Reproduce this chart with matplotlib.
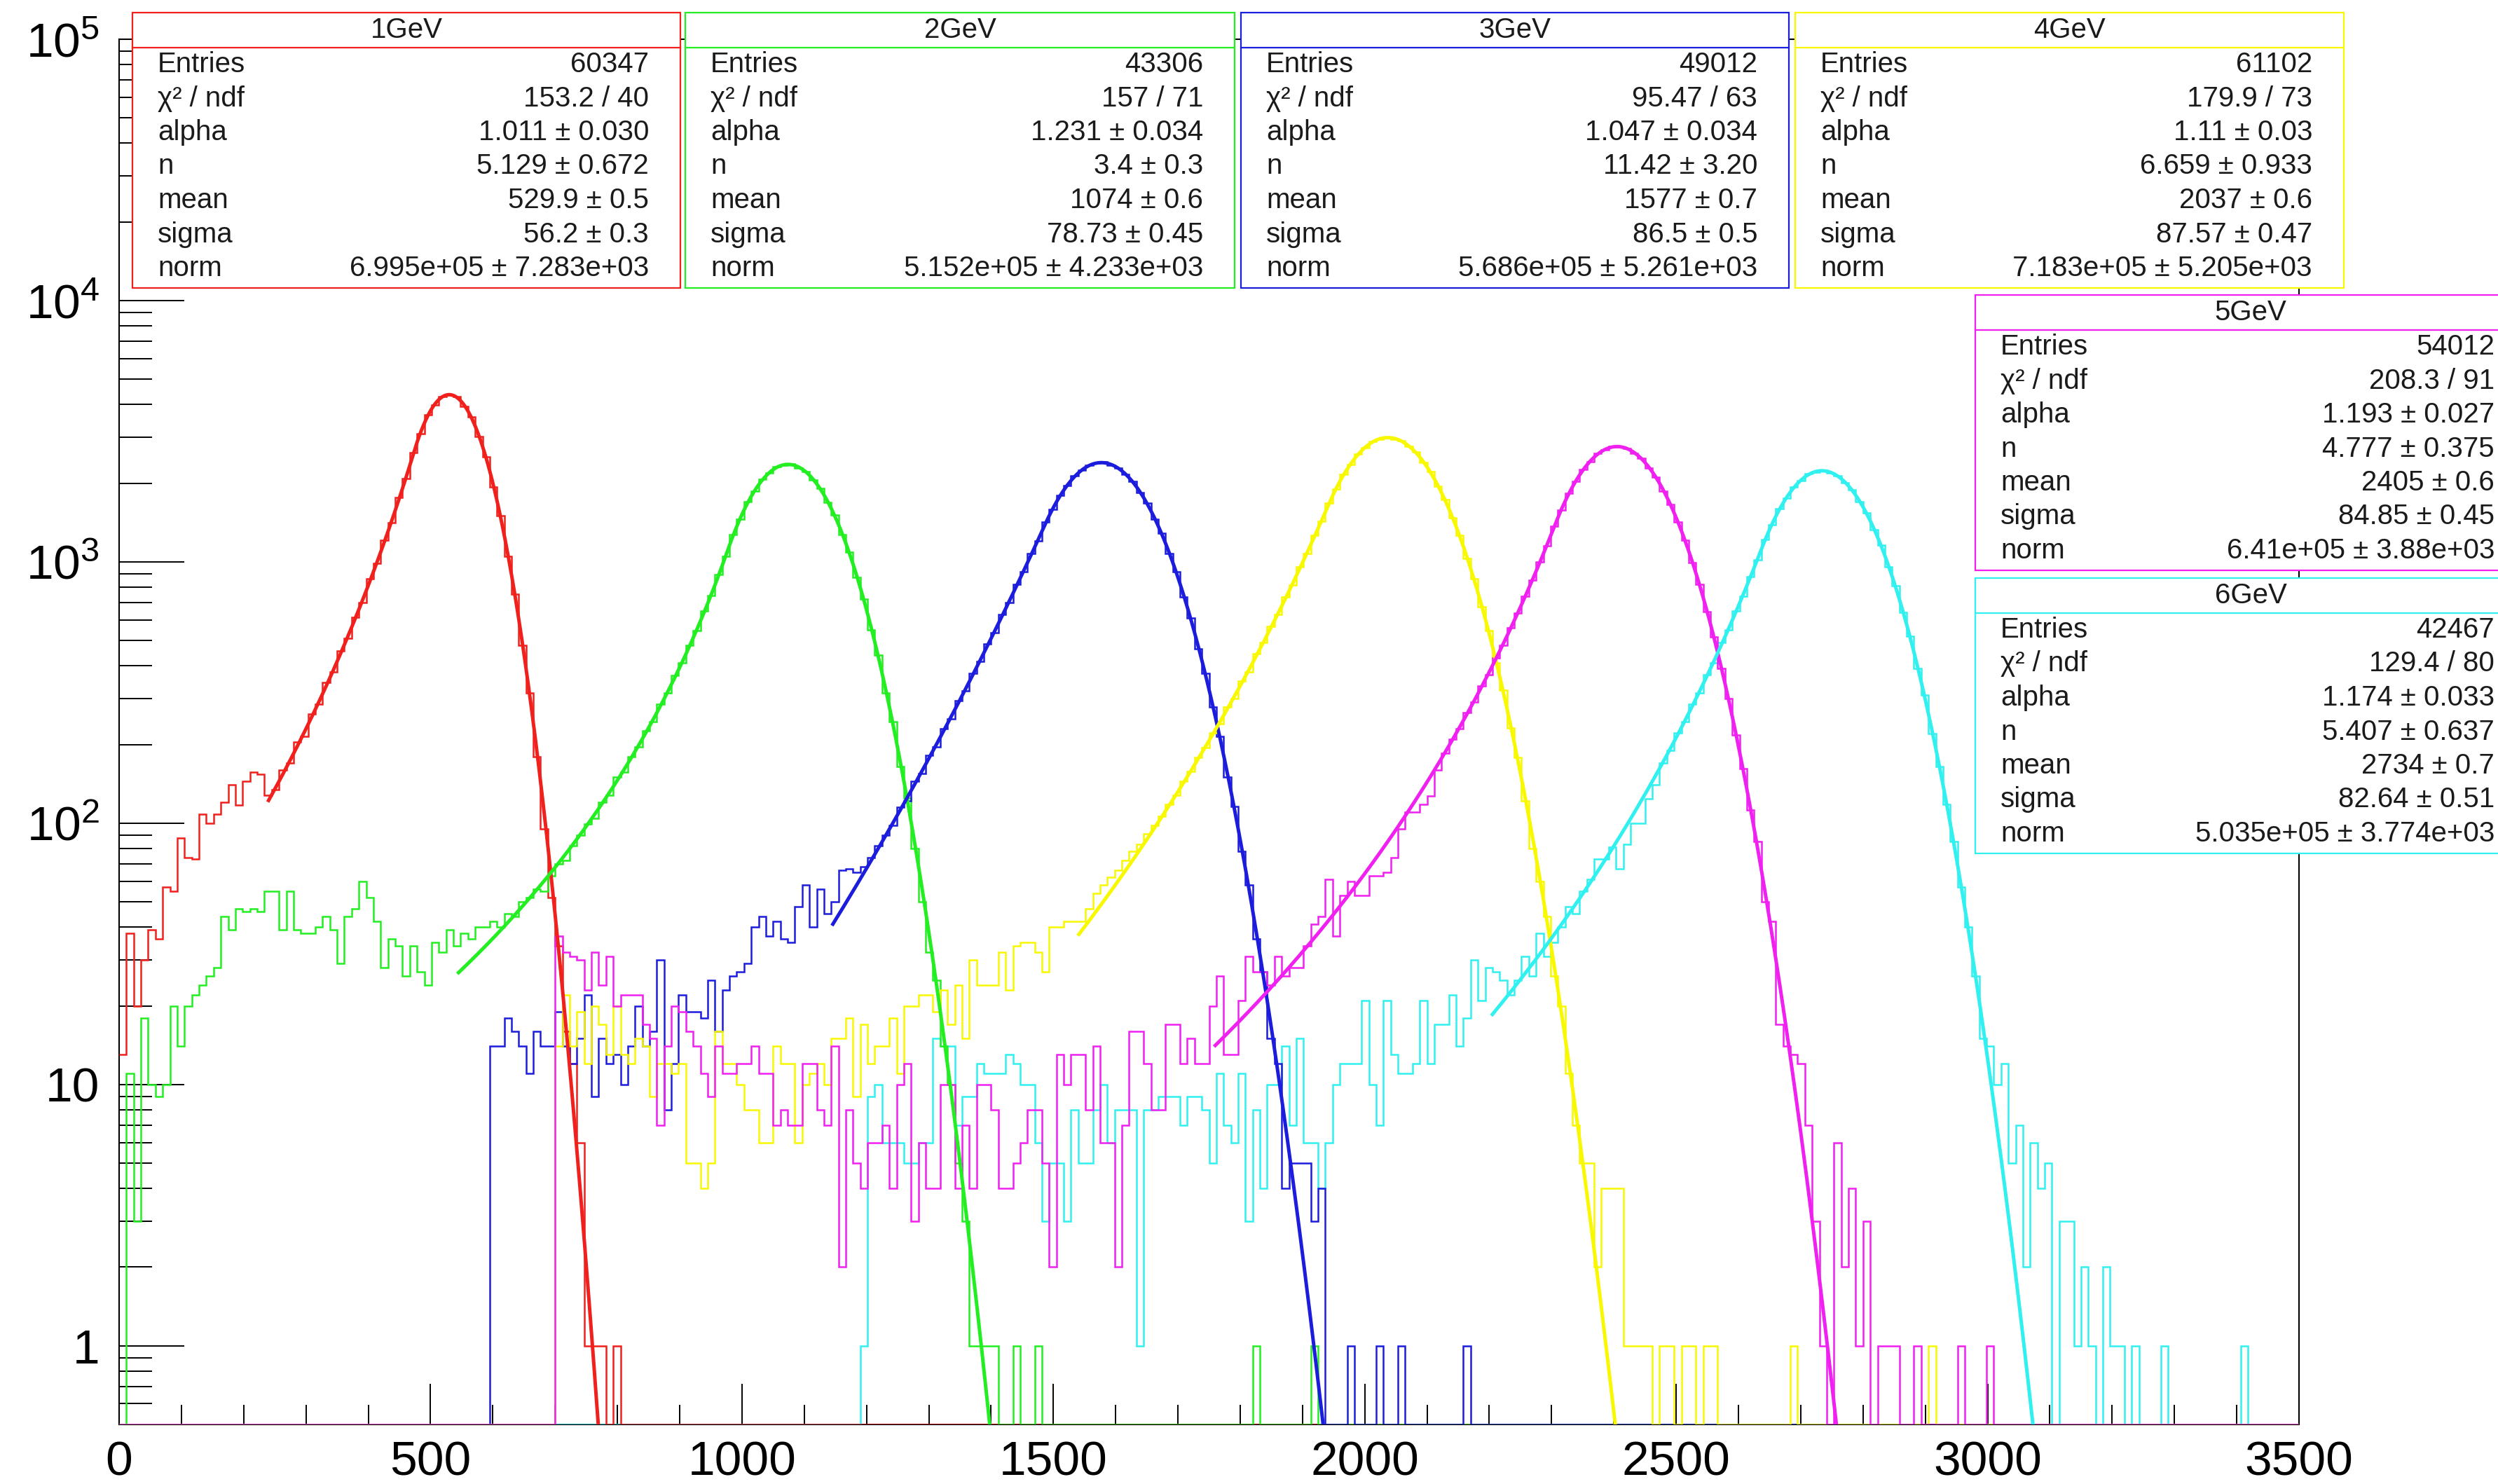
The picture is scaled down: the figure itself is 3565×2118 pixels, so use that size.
import numpy as np
import matplotlib
matplotlib.use("Agg")
import matplotlib.pyplot as plt
from matplotlib.patches import Rectangle
from matplotlib.lines import Line2D
from matplotlib.ticker import FixedLocator, NullFormatter
from math import erf, sqrt, pi, exp

plt.rcParams['font.family'] = ['Liberation Sans', 'DejaVu Sans']
plt.rcParams['mathtext.fontset'] = 'custom'
plt.rcParams['mathtext.rm'] = 'Liberation Sans'
plt.rcParams['mathtext.it'] = 'Liberation Sans:italic'

N_BINS = 300
X_MAX = 3500.0
Y_MIN = 0.5
Y_MAX = 1e5

names = ["1GeV", "2GeV", "3GeV", "4GeV", "5GeV", "6GeV"]
colors = ["#f0201c", "#22ee22", "#1c1cdc", "#f8f800", "#f020f0", "#30f0f0"]

# bin contents (bin width 3500/300), each list starts at first_bin
first_1gev = 0
counts_1gev = [13, 38, 20, 30, 39, 36, 57, 55, 88, 74,
               73, 108, 100, 108, 120, 140, 117, 145, 157, 154,
               128, 134, 160, 170, 205, 215, 262, 285, 345, 380,
               455, 510, 615, 700, 860, 985, 1210, 1410, 1760, 2080,
               2620, 3100, 3660, 3990, 4300, 4340, 4280, 3940, 3580, 3020,
               2530, 1940, 1500, 1050, 750, 480, 315, 180, 95, 52,
               34, 16, 12, 6, 1, 1, 1, 0, 1]

first_2gev = 0
counts_2gev = [0, 11, 3, 18, 10, 9, 10, 20, 14, 20,
               22, 24, 26, 28, 44, 39, 47, 46, 47, 46,
               55, 55, 39, 55, 39, 38, 38, 40, 44, 39,
               29, 44, 47, 60, 52, 42, 28, 36, 34, 26,
               34, 27, 24, 35, 32, 39, 34, 38, 36, 40,
               40, 42, 40, 45, 44, 50, 52, 56, 55, 63,
               70, 72, 82, 90, 99, 104, 120, 128, 150, 157,
               180, 196, 225, 245, 285, 315, 368, 410, 480, 545,
               650, 745, 895, 1050, 1270, 1460, 1695, 1870, 2070, 2190,
               2310, 2340, 2370, 2290, 2220, 2060, 1910, 1690, 1510, 1270,
               1090, 870, 720, 550, 440, 315, 245, 165, 125, 80,
               50, 32, 25, 14, 10, 5, 3, 1, 1, 1,
               1, 0, 0, 1, 0, 0, 1, 0, 0, 0,
               0, 0, 0, 0, 0, 0, 0, 0, 0, 0,
               0, 0, 0, 0, 0, 0, 0, 0, 0, 0,
               0, 0, 0, 0, 0, 0, 1, 0, 0, 0,
               0, 0, 0, 0, 1]

first_3gev = 51
counts_3gev = [14, 14, 18, 16, 14, 11, 16, 14, 14, 19,
               14, 12, 15, 22, 9, 15, 12, 13, 10, 14,
               20, 14, 16, 30, 8, 12, 22, 19, 19, 18,
               25, 16, 23, 26, 27, 29, 40, 44, 37, 42,
               36, 35, 48, 58, 40, 56, 45, 50, 66, 67,
               65, 68, 74, 82, 90, 98, 115, 122, 145, 155,
               182, 196, 230, 250, 295, 320, 375, 415, 485, 535,
               630, 700, 820, 915, 1075, 1205, 1420, 1590, 1800, 1955,
               2135, 2240, 2350, 2380, 2410, 2350, 2290, 2160, 2030, 1840,
               1675, 1460, 1285, 1075, 915, 735, 610, 465, 375, 278,
               215, 150, 116, 78, 58, 36, 27, 15, 12, 4,
               5, 5, 5, 3, 4, 0, 0, 0, 1, 0,
               0, 0, 1, 0, 0, 1, 0, 0, 0, 0,
               0, 0, 0, 0, 1]

first_4gev = 60
counts_4gev = [14, 22, 14, 19, 12, 20, 17, 13, 20, 13,
               12, 15, 14, 9, 12, 12, 11, 12, 5, 5,
               4, 5, 16, 12, 12, 10, 8, 8, 6, 6,
               14, 12, 12, 6, 10, 11, 12, 10, 15, 15,
               18, 9, 17, 12, 14, 14, 18, 11, 20, 20,
               22, 22, 19, 23, 17, 24, 15, 30, 24, 24,
               24, 32, 23, 34, 35, 35, 32, 27, 40, 40,
               42, 42, 42, 47, 54, 58, 62, 66, 72, 78,
               83, 91, 98, 106, 118, 128, 145, 158, 178, 195,
               222, 240, 278, 300, 350, 380, 445, 490, 565, 630,
               735, 815, 955, 1075, 1265, 1430, 1680, 1895, 2160, 2360,
               2590, 2730, 2890, 2940, 3000, 2950, 2910, 2760, 2630, 2400,
               2210, 1950, 1730, 1470, 1265, 1030, 860, 675, 545, 410,
               322, 232, 178, 122, 80, 60, 44, 26, 20, 11,
               7, 5, 5, 2, 4, 4, 4, 1, 1, 1,
               1, 0, 1, 1, 0, 1, 1, 0, 1, 1,
               0, 0, 0, 0, 0, 0, 0, 0, 0, 0,
               1, 0, 0, 0, 0, 0, 0, 0, 0, 0,
               0, 0, 0, 0, 0, 0, 0, 0, 0, 1]

first_5gev = 60
counts_5gev = [37, 32, 31, 30, 23, 32, 24, 31, 20, 22,
               22, 22, 17, 15, 7, 14, 20, 19, 16, 14,
               11, 9, 14, 11, 11, 12, 12, 14, 11, 11,
               7, 8, 7, 7, 12, 12, 8, 7, 14, 2,
               8, 5, 4, 6, 6, 7, 4, 10, 12, 3,
               6, 4, 4, 10, 10, 4, 7, 4, 10, 10,
               8, 4, 4, 5, 6, 8, 8, 5, 2, 13,
               10, 13, 13, 8, 14, 6, 6, 2, 7, 16,
               16, 12, 8, 8, 17, 17, 12, 15, 12, 12,
               20, 26, 13, 13, 21, 31, 27, 27, 24, 31,
               26, 28, 28, 34, 41, 44, 61, 37, 53, 60,
               53, 53, 63, 63, 65, 74, 95, 110, 110, 118,
               127, 160, 185, 210, 230, 265, 290, 335, 370, 430,
               480, 560, 635, 740, 850, 1000, 1150, 1370, 1580, 1830,
               2030, 2260, 2420, 2600, 2680, 2760, 2750, 2720, 2600, 2490,
               2290, 2110, 1870, 1660, 1420, 1210, 995, 820, 645, 515,
               390, 300, 218, 162, 112, 85, 50, 42, 17, 14,
               13, 12, 7, 3, 1, 0, 6, 2, 4, 1,
               3, 0, 1, 1, 1, 0, 0, 1, 0, 0,
               0, 0, 0, 1, 0, 0, 0, 1]

first_6gev = 102
counts_6gev = [1, 9, 10, 6, 6, 6, 5, 5, 6, 6,
               15, 14, 14, 7, 9, 9, 12, 11, 11, 11,
               13, 12, 10, 10, 6, 3, 5, 5, 3, 8,
               5, 5, 8, 10, 6, 8, 8, 8, 1, 8,
               8, 9, 9, 9, 7, 9, 9, 8, 5, 11,
               7, 6, 11, 3, 8, 4, 10, 10, 14, 7,
               15, 6, 6, 4, 6, 10, 12, 12, 12, 21,
               10, 7, 21, 13, 11, 11, 12, 21, 12, 17,
               17, 22, 14, 18, 30, 21, 28, 27, 25, 22,
               25, 31, 26, 38, 31, 35, 40, 48, 45, 55,
               61, 73, 73, 81, 67, 83, 100, 100, 124, 140,
               170, 190, 222, 245, 285, 315, 370, 410, 490, 550,
               650, 740, 880, 1020, 1215, 1390, 1600, 1755, 1940, 2050,
               2170, 2200, 2240, 2190, 2140, 2010, 1890, 1700, 1540, 1330,
               1160, 955, 810, 640, 520, 390, 310, 220, 165, 118,
               85, 57, 40, 26, 15, 14, 10, 12, 5, 7,
               2, 6, 4, 5, 0, 3, 3, 1, 2, 1,
               0, 2, 1, 1, 0, 1, 0, 0, 0, 1,
               0, 0, 0, 0, 0, 0, 0, 0, 0, 0,
               1]

first_bins = [first_1gev, first_2gev, first_3gev, first_4gev, first_5gev, first_6gev]
counts = [counts_1gev, counts_2gev, counts_3gev, counts_4gev, counts_5gev, counts_6gev]

# crystal ball fit results
fit_alpha = [1.011, 1.231, 1.047, 1.11, 1.193, 1.174]
fit_n = [5.129, 3.4, 11.42, 6.659, 4.777, 5.407]
fit_mean = [529.9, 1074, 1577, 2037, 2405, 2734]
fit_sigma = [56.2, 78.73, 86.5, 87.57, 84.85, 82.64]
fit_norm = [6.995e5, 5.152e5, 5.686e5, 7.183e5, 6.41e5, 5.035e5]
fit_lo = [240, 545, 1146, 1541, 1760, 2205]
fit_hi = [790, 1400, 1960, 2420, 2780, 3090]

# stat box texts
entries = ["60347", "43306", "49012", "61102", "54012", "42467"]
chi2_ndf = ["153.2 / 40", "157 / 71", "95.47 / 63", "179.9 / 73", "208.3 / 91", "129.4 / 80"]
alpha_txt = ["1.011 ± 0.030", "1.231 ± 0.034", "1.047 ± 0.034", "1.11 ± 0.03", "1.193 ± 0.027", "1.174 ± 0.033"]
n_txt = ["5.129 ± 0.672", "3.4 ± 0.3", "11.42 ± 3.20", "6.659 ± 0.933", "4.777 ± 0.375", "5.407 ± 0.637"]
mean_txt = ["529.9 ± 0.5", "1074 ± 0.6", "1577 ± 0.7", "2037 ± 0.6", "2405 ± 0.6", "2734 ± 0.7"]
sigma_txt = ["56.2 ± 0.3", "78.73 ± 0.45", "86.5 ± 0.5", "87.57 ± 0.47", "84.85 ± 0.45", "82.64 ± 0.51"]
norm_txt = ["6.995e+05 ± 7.283e+03", "5.152e+05 ± 4.233e+03", "5.686e+05 ± 5.261e+03",
            "7.183e+05 ± 5.205e+03", "6.41e+05 ± 3.88e+03", "5.035e+05 ± 3.774e+03"]
row_labels = ["Entries", "χ² / ndf", "alpha", "n", "mean", "sigma", "norm"]


def crystal_ball(x, alpha, n, mean, sigma, norm):
    a = abs(alpha)
    c = n / a / (n - 1) * exp(-a * a / 2)
    d = sqrt(pi / 2) * (1 + erf(a / sqrt(2)))
    peak = norm / (sigma * (c + d))
    t = (x - mean) / sigma
    aa = (n / a) ** n * exp(-a * a / 2)
    bb = n / a - a
    return peak * np.where(t > -a, np.exp(-t * t / 2), aa * np.abs(bb - t) ** (-n))


W, H = 3565, 2118
fig = plt.figure(figsize=(W / 100, H / 100), dpi=100)
ax = fig.add_axes([170 / W, 1 - 2033 / H, (3281 - 170) / W, (2033 - 56) / H])

edges = np.linspace(0, X_MAX, N_BINS + 1)

# drawing order as in the original canvas
for i in [5, 0, 1, 2, 3, 4]:
    full = np.zeros(N_BINS)
    full[first_bins[i]:first_bins[i] + len(counts[i])] = counts[i]
    vals = np.where(full > 0, full, Y_MIN)
    ax.stairs(vals, edges, baseline=None, color=colors[i], lw=1.8, zorder=3)

for i in range(6):
    xs = np.linspace(fit_lo[i], fit_hi[i], 800)
    ys = crystal_ball(xs, fit_alpha[i], fit_n[i], fit_mean[i], fit_sigma[i], fit_norm[i])
    ax.plot(xs, ys, color=colors[i], lw=3.6, zorder=4)

ax.set_yscale('log')
ax.set_xlim(0, X_MAX)
ax.set_ylim(Y_MIN, Y_MAX)

ax.set_xticks(np.arange(0, 3501, 500))
ax.set_xticks(np.arange(0, 3501, 100), minor=True)
ax.set_yticks([1, 10, 100, 1e3, 1e4, 1e5],
              ['1', '10', '$10^{2}$', '$10^{3}$', '$10^{4}$', '$10^{5}$'])
minor_y = [k * 10.0 ** d for d in range(-1, 5) for k in range(2, 10)]
minor_y = [v for v in minor_y if Y_MIN <= v <= Y_MAX]
ax.yaxis.set_minor_locator(FixedLocator(minor_y))
ax.yaxis.set_minor_formatter(NullFormatter())

ax.tick_params(axis='x', which='major', direction='in', length=42, width=1.4,
               pad=16, labelsize=50, top=False)
ax.tick_params(axis='x', which='minor', direction='in', length=20, width=1.4, top=False)
ax.tick_params(axis='y', which='major', direction='in', length=67, width=1.4,
               pad=20, labelsize=50, right=False)
ax.tick_params(axis='y', which='minor', direction='in', length=34, width=1.4, right=False)
for sp in ax.spines.values():
    sp.set_linewidth(1.5)
    sp.set_color('black')

# stat boxes (figure pixel coordinates)
box_left = [189, 978, 1771, 2562, 2819, 2819]
box_right = [971, 1762, 2553, 3345, 3605, 3605]
box_top = [18, 18, 18, 18, 421, 825]
box_h = 393
title_h = 50
row_pitch = 48.5


def fx(px):
    return px / W


def fy(py):
    return 1 - py / H


for i in range(6):
    l, r, t = box_left[i], box_right[i], box_top[i]
    fig.add_artist(Rectangle((fx(l), fy(t + box_h)), fx(r) - fx(l), fy(t) - fy(t + box_h),
                             transform=fig.transFigure, facecolor='white',
                             edgecolor=colors[i], lw=1.6, zorder=10))
    fig.add_artist(Line2D([fx(l), fx(r)], [fy(t + title_h), fy(t + title_h)],
                          transform=fig.transFigure, color=colors[i], lw=1.6, zorder=11))
    fig.text(fx((l + r) / 2), fy(t + 25), names[i], ha='center', va='center',
             fontsize=29, color='#1a1a1a', zorder=12)
    values = [entries[i], chi2_ndf[i], alpha_txt[i], n_txt[i], mean_txt[i], sigma_txt[i], norm_txt[i]]
    for k in range(7):
        yy = fy(t + 74 + row_pitch * k)
        fig.text(fx(l + 36), yy, row_labels[k], ha='left', va='center',
                 fontsize=29, color='#1a1a1a', zorder=12)
        fig.text(fx(r - 45), yy, values[k], ha='right', va='center',
                 fontsize=29, color='#1a1a1a', zorder=12)

fig.savefig('out.png', dpi=100)
